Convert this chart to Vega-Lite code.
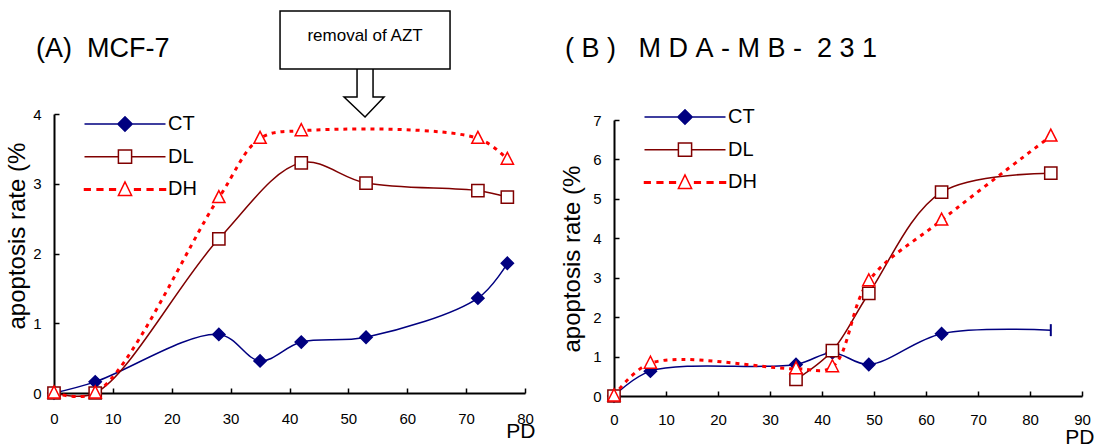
{
  "$schema": "https://vega.github.io/schema/vega-lite/v6.json",
  "background": "white",
  "padding": {"left": 4, "top": 8, "right": 0, "bottom": 0},
  "bounds": "flush",
  "spacing": 89,
  "config": {
    "view": {"stroke": null},
    "font": "Liberation Sans",
    "axis": {
      "grid": false,
      "domainColor": "black",
      "domainWidth": 2,
      "tickColor": "black",
      "tickWidth": 1.5,
      "tickSize": -5,
      "labelFont": "Liberation Sans",
      "labelFontSize": 15,
      "labelColor": "black",
      "labelOverlap": false,
      "labelFlush": false,
      "titleFont": "Liberation Sans",
      "titleColor": "black",
      "titleFontWeight": "normal"
    }
  },
  "datasets": {
    "mcf7": [
      {"series": "CT", "pd": 0, "rate": 0},
      {"series": "CT", "pd": 7, "rate": 0.16},
      {"series": "CT", "pd": 28, "rate": 0.84},
      {"series": "CT", "pd": 35, "rate": 0.46},
      {"series": "CT", "pd": 42, "rate": 0.73},
      {"series": "CT", "pd": 53, "rate": 0.8},
      {"series": "CT", "pd": 72, "rate": 1.36},
      {"series": "CT", "pd": 77, "rate": 1.86},
      {"series": "DL", "pd": 0, "rate": 0},
      {"series": "DL", "pd": 7, "rate": 0},
      {"series": "DL", "pd": 28, "rate": 2.21},
      {"series": "DL", "pd": 42, "rate": 3.3},
      {"series": "DL", "pd": 53, "rate": 3.01},
      {"series": "DL", "pd": 72, "rate": 2.9},
      {"series": "DL", "pd": 77, "rate": 2.81},
      {"series": "DH", "pd": 0, "rate": 0},
      {"series": "DH", "pd": 7, "rate": 0},
      {"series": "DH", "pd": 28, "rate": 2.8},
      {"series": "DH", "pd": 35, "rate": 3.65},
      {"series": "DH", "pd": 42, "rate": 3.76},
      {"series": "DH", "pd": 72, "rate": 3.65},
      {"series": "DH", "pd": 77, "rate": 3.35}
    ],
    "mda": [
      {"series": "CT", "pd": 0, "rate": 0},
      {"series": "CT", "pd": 7, "rate": 0.63},
      {"series": "CT", "pd": 35, "rate": 0.8},
      {"series": "CT", "pd": 42, "rate": 1.1},
      {"series": "CT", "pd": 49, "rate": 0.8},
      {"series": "CT", "pd": 63, "rate": 1.58},
      {"series": "CT", "pd": 84, "rate": 1.67},
      {"series": "DL", "pd": 0, "rate": 0},
      {"series": "DL", "pd": 7, "rate": null},
      {"series": "DL", "pd": 35, "rate": 0.42},
      {"series": "DL", "pd": 42, "rate": 1.15},
      {"series": "DL", "pd": 49, "rate": 2.6},
      {"series": "DL", "pd": 63, "rate": 5.17},
      {"series": "DL", "pd": 84, "rate": 5.65},
      {"series": "DH", "pd": 0, "rate": 0},
      {"series": "DH", "pd": 7, "rate": 0.83},
      {"series": "DH", "pd": 35, "rate": 0.69},
      {"series": "DH", "pd": 42, "rate": 0.74},
      {"series": "DH", "pd": 49, "rate": 2.92},
      {"series": "DH", "pd": 63, "rate": 4.46},
      {"series": "DH", "pd": 84, "rate": 6.59}
    ],
    "note": [
      {"pd": 53, "rate": 4, "label": "removal of AZT"}
    ]
  },
  "hconcat": [
    {
      "width": 471,
      "height": 279,
      "data": {"name": "mcf7"},
      "title": {
        "text": "(A)\u00a0 MCF-7",
        "frame": "group",
        "anchor": "start",
        "dx": -18,
        "dy": 28,
        "offset": -48,
        "baseline": "alphabetic",
        "font": "Liberation Sans",
        "fontSize": 27,
        "fontWeight": "normal",
        "color": "black"
      },
      "encoding": {
        "x": {
          "field": "pd",
          "type": "quantitative",
          "scale": {"domain": [0, 80], "nice": false},
          "axis": {
            "values": [0, 10, 20, 30, 40, 50, 60, 70, 80],
            "title": "PD",
            "titleFontSize": 21,
            "titleX": 481,
            "titleY": 44,
            "titleAlign": "right",
            "titleBaseline": "alphabetic",
            "labelPadding": 23
          }
        },
        "y": {
          "field": "rate",
          "type": "quantitative",
          "scale": {"domain": [0, 4], "nice": false},
          "axis": {
            "values": [0, 1, 2, 3, 4],
            "title": "apoptosis rate (%",
            "titleFontSize": 24,
            "titleAngle": 270,
            "titleAlign": "left",
            "titleBaseline": "alphabetic",
            "titleX": -30,
            "titleY": 215,
            "labelPadding": 18
          }
        }
      },
      "layer": [
        {
          "transform": [{"filter": "datum.series != 'DH'"}],
          "mark": {"type": "line", "interpolate": "catmull-rom", "strokeWidth": 1.5},
          "encoding": {
            "color": {"field": "series", "type": "nominal", "scale": {"domain": ["CT", "DL"], "range": ["#000080", "#800000"]}, "legend": null}
          }
        },
        {
          "transform": [{"filter": "datum.series == 'DH'"}],
          "mark": {"type": "line", "interpolate": "catmull-rom", "color": "#ff0000", "strokeWidth": 3, "strokeDash": [4, 5]}
        },
        {
          "mark": {"type": "point", "filled": true, "opacity": 1, "size": 150, "strokeWidth": 1.5},
          "encoding": {
            "shape": {"field": "series", "type": "nominal", "scale": {"domain": ["CT", "DL", "DH"], "range": ["diamond", "square", "M0,-1.15L-1,0.8L1,0.8Z"]}, "legend": null},
            "fill": {"field": "series", "type": "nominal", "scale": {"domain": ["CT", "DL", "DH"], "range": ["#000080", "#ffffff", "#ffffff"]}, "legend": null},
            "stroke": {"field": "series", "type": "nominal", "scale": {"domain": ["CT", "DL", "DH"], "range": ["#000080", "#800000", "#ff0000"]}, "legend": null}
          }
        },
        {
          "mark": {"type": "point", "filled": true, "opacity": 0, "size": 36, "strokeWidth": 1.5},
          "encoding": {
            "shape": {"field": "series", "type": "nominal",
              "scale": {"domain": ["CT", "DL", "DH"], "range": [
                "M-13.5,0H13.5M-2.4,0L0,-2.4L2.4,0L0,2.4Z",
                "M-13.5,0H-2.2M2.2,0H13.5M-2.2,-2.2H2.2V2.2H-2.2Z",
                "M-13.5,-0.25H-11.6V0.25H-13.5ZM-9.3,-0.25H-7.4V0.25H-9.3ZM-5.1,-0.25H-3.2V0.25H-5.1ZM3.2,-0.25H5.1V0.25H3.2ZM7.4,-0.25H9.3V0.25H7.4ZM11.6,-0.25H13.5V0.25H11.6ZM0,-2.5L-2.2,2L2.2,2Z"
              ]},
              "legend": {"title": null, "orient": "none", "legendX": 61, "legendY": 0, "labelOffset": 33, "labelFontSize": 20, "labelFont": "Liberation Sans", "labelColor": "black", "symbolOpacity": 1, "symbolStrokeWidth": 1.5, "symbolSize": 36, "rowPadding": 11.7, "padding": 0, "labelLimit": 0}
            },
            "fill": {"field": "series", "type": "nominal", "scale": {"domain": ["CT", "DL", "DH"], "range": ["#000080", "#ffffff", "#ffffff"]},
              "legend": {"title": null, "orient": "none", "legendX": 61, "legendY": 0, "labelOffset": 33, "labelFontSize": 20, "labelFont": "Liberation Sans", "labelColor": "black", "symbolOpacity": 1, "symbolStrokeWidth": 1.5, "symbolSize": 36, "rowPadding": 11.7, "padding": 0, "labelLimit": 0}
            },
            "stroke": {"field": "series", "type": "nominal", "scale": {"domain": ["CT", "DL", "DH"], "range": ["#000080", "#800000", "#ff0000"]},
              "legend": {"title": null, "orient": "none", "legendX": 61, "legendY": 0, "labelOffset": 33, "labelFontSize": 20, "labelFont": "Liberation Sans", "labelColor": "black", "symbolOpacity": 1, "symbolStrokeWidth": 1.5, "symbolSize": 36, "rowPadding": 11.7, "padding": 0, "labelLimit": 0}
            }
          }
        },
        {
          "data": {"name": "note"},
          "mark": {"type": "point", "shape": "M-86,-103H84V-45H-86ZM-9,-45V-17H-22L-1,3L18,-17H7V-45Z", "size": 4, "filled": true, "fill": "white", "stroke": "black", "strokeWidth": 1.5, "opacity": 1}
        },
        {
          "data": {"name": "note"},
          "mark": {"type": "text", "dy": -73, "dx": -1, "baseline": "alphabetic", "align": "center", "fontSize": 17, "font": "Liberation Sans", "color": "black"},
          "encoding": {"text": {"field": "label"}}
        }
      ],
      "resolve": {"scale": {"color": "independent", "shape": "independent", "fill": "independent", "stroke": "independent"}}
    },
    {
      "width": 468,
      "height": 282,
      "data": {"name": "mda"},
      "title": {
        "text": "(\u00a0B\u00a0)\u00a0\u00a0\u00a0M\u00a0D\u00a0A\u00a0-\u00a0M\u00a0B\u00a0-\u00a0\u00a02\u00a03\u00a01",
        "frame": "group",
        "anchor": "start",
        "dx": -49,
        "dy": 23,
        "offset": 46,
        "baseline": "alphabetic",
        "font": "Liberation Sans",
        "fontSize": 27,
        "fontWeight": "normal",
        "color": "black"
      },
      "encoding": {
        "x": {
          "field": "pd",
          "type": "quantitative",
          "scale": {"domain": [0, 90], "nice": false},
          "axis": {
            "values": [0, 10, 20, 30, 40, 50, 60, 70, 80, 90],
            "title": "PD",
            "titleFontSize": 21,
            "titleX": 480,
            "titleY": 47,
            "titleAlign": "right",
            "titleBaseline": "alphabetic",
            "labelPadding": 21.6
          }
        },
        "y": {
          "field": "rate",
          "type": "quantitative",
          "scale": {"domain": [0, 7], "nice": false, "range": [282, 6]},
          "axis": {
            "values": [0, 1, 2, 3, 4, 5, 6, 7],
            "title": "apoptosis rate (%",
            "titleFontSize": 24,
            "titleAngle": 270,
            "titleAlign": "left",
            "titleBaseline": "alphabetic",
            "titleX": -35,
            "titleY": 238,
            "labelPadding": 18
          }
        }
      },
      "layer": [
        {
          "transform": [{"filter": "datum.series != 'DH'"}],
          "mark": {"type": "line", "interpolate": "catmull-rom", "strokeWidth": 1.5},
          "encoding": {
            "color": {"field": "series", "type": "nominal", "scale": {"domain": ["CT", "DL"], "range": ["#000080", "#800000"]}, "legend": null}
          }
        },
        {
          "transform": [{"filter": "datum.series == 'DH'"}],
          "mark": {"type": "line", "interpolate": "catmull-rom", "color": "#ff0000", "strokeWidth": 3, "strokeDash": [4, 5]}
        },
        {
          "transform": [{"filter": "!(datum.series == 'CT' && datum.pd == 84)"}],
          "mark": {"type": "point", "filled": true, "opacity": 1, "size": 150, "strokeWidth": 1.5},
          "encoding": {
            "shape": {"field": "series", "type": "nominal", "scale": {"domain": ["CT", "DL", "DH"], "range": ["diamond", "square", "M0,-1.15L-1,0.8L1,0.8Z"]}, "legend": null},
            "fill": {"field": "series", "type": "nominal", "scale": {"domain": ["CT", "DL", "DH"], "range": ["#000080", "#ffffff", "#ffffff"]}, "legend": null},
            "stroke": {"field": "series", "type": "nominal", "scale": {"domain": ["CT", "DL", "DH"], "range": ["#000080", "#800000", "#ff0000"]}, "legend": null}
          }
        },
        {
          "transform": [{"filter": "datum.series == 'CT' && datum.pd == 84"}],
          "mark": {"type": "point", "shape": "M0,-1V1", "size": 144, "filled": false, "stroke": "#000080", "strokeWidth": 2, "opacity": 1}
        },
        {
          "mark": {"type": "point", "filled": true, "opacity": 0, "size": 36, "strokeWidth": 1.5},
          "encoding": {
            "shape": {"field": "series", "type": "nominal",
              "scale": {"domain": ["CT", "DL", "DH"], "range": [
                "M-13.5,0H13.5M-2.4,0L0,-2.4L2.4,0L0,2.4Z",
                "M-13.5,0H-2.2M2.2,0H13.5M-2.2,-2.2H2.2V2.2H-2.2Z",
                "M-13.5,-0.25H-11.6V0.25H-13.5ZM-9.3,-0.25H-7.4V0.25H-9.3ZM-5.1,-0.25H-3.2V0.25H-5.1ZM3.2,-0.25H5.1V0.25H3.2ZM7.4,-0.25H9.3V0.25H7.4ZM11.6,-0.25H13.5V0.25H11.6ZM0,-2.5L-2.2,2L2.2,2Z"
              ]},
              "legend": {"title": null, "orient": "none", "legendX": 61, "legendY": -7, "labelOffset": 33, "labelFontSize": 20, "labelFont": "Liberation Sans", "labelColor": "black", "symbolOpacity": 1, "symbolStrokeWidth": 1.5, "symbolSize": 36, "rowPadding": 11.7, "padding": 0, "labelLimit": 0}
            },
            "fill": {"field": "series", "type": "nominal", "scale": {"domain": ["CT", "DL", "DH"], "range": ["#000080", "#ffffff", "#ffffff"]},
              "legend": {"title": null, "orient": "none", "legendX": 61, "legendY": -7, "labelOffset": 33, "labelFontSize": 20, "labelFont": "Liberation Sans", "labelColor": "black", "symbolOpacity": 1, "symbolStrokeWidth": 1.5, "symbolSize": 36, "rowPadding": 11.7, "padding": 0, "labelLimit": 0}
            },
            "stroke": {"field": "series", "type": "nominal", "scale": {"domain": ["CT", "DL", "DH"], "range": ["#000080", "#800000", "#ff0000"]},
              "legend": {"title": null, "orient": "none", "legendX": 61, "legendY": -7, "labelOffset": 33, "labelFontSize": 20, "labelFont": "Liberation Sans", "labelColor": "black", "symbolOpacity": 1, "symbolStrokeWidth": 1.5, "symbolSize": 36, "rowPadding": 11.7, "padding": 0, "labelLimit": 0}
            }
          }
        }
      ],
      "resolve": {"scale": {"color": "independent", "shape": "independent", "fill": "independent", "stroke": "independent"}}
    }
  ]
}
